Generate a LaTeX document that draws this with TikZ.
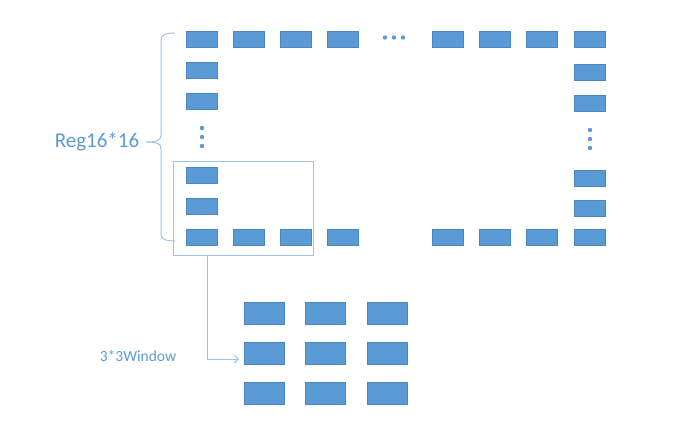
\documentclass[tikz,border=0pt]{standalone}
\usepackage{fontspec}
\setmainfont{Carlito}
\usetikzlibrary{arrows.meta}
\definecolor{boxblue}{HTML}{5B9BD5}
\definecolor{boxedge}{HTML}{4A86C2}
\definecolor{lineblue}{HTML}{9DC3E6}
\definecolor{textblue}{HTML}{5B9BD5}
\tikzset{
  reg/.style={rectangle, fill=boxblue, draw=boxedge, line width=0.4pt, minimum width=31pt, minimum height=16pt, inner sep=0pt},
  greg/.style={rectangle, fill=boxblue, draw=boxedge, line width=0.4pt, minimum width=40pt, minimum height=22pt, inner sep=0pt},
  dotc/.style={circle, fill=boxblue, inner sep=0pt, minimum size=4.4pt},
  thin line/.style={draw=lineblue, line width=1pt},
  lbl/.style={text=textblue, inner sep=0pt}
}
\begin{document}
\begin{tikzpicture}[x=1pt,y=-1pt]
\useasboundingbox (0,0) rectangle (695,434);
% top row
\foreach \x [count=\i] in {201.5,248.5,295.5,342.5,447.5,494.5,542,589.5}
  \node[reg] (t\i) at (\x,39) {};
% bottom row
\foreach \x [count=\i] in {201.5,248.5,295.5,342.5,447.5,494.5,542,589.5}
  \node[reg] (b\i) at (\x,237.5) {};
% left column
\foreach \y [count=\i] in {70.5,101.5,175.5,206.5}
  \node[reg] (l\i) at (201.5,\y) {};
% right column
\foreach \y [count=\i] in {72.5,103.5,178,208.5}
  \node[reg] (r\i) at (589.5,\y) {};
% dots
\foreach \x [count=\i] in {385,394,403}
  \node[dotc] (td\i) at (\x,37.5) {};
\foreach \y [count=\i] in {128,137,146}
  \node[dotc] (ld\i) at (202,\y) {};
\foreach \y [count=\i] in {130,139,148}
  \node[dotc] (rd\i) at (590,\y) {};
% brace
\draw[thin line] (175,33) .. controls (165,33) and (161,35) .. (161,41)
  -- (161,135) .. controls (161,140) and (158,142) .. (146,142)
  .. controls (158,142) and (161,144) .. (161,149)
  -- (161,234) .. controls (161,239) and (165,241) .. (175,241);
\node[lbl, font=\fontsize{21}{24}\selectfont] (reg) at (97,142) {Reg16*16};
% window
\node[draw=lineblue, line width=1pt, minimum width=140pt, minimum height=94pt, inner sep=0pt] (win) at (243,208) {};
% 3x3 grid
\foreach \y [count=\j] in {313,353.5,393.5}
  \foreach \x [count=\i] in {264,325.5,387}
    \node[greg] (g\j\i) at (\x,\y) {};
\coordinate (wa) at (207,255);
\coordinate (ae) at (239,359);
\draw[thin line, -{Straight Barb[length=4pt,width=8pt]}] (wa) |- (ae);
\node[lbl, font=\fontsize{15.5}{18}\selectfont] (wl) at (138,356) {3*3Window};
\end{tikzpicture}
\end{document}
